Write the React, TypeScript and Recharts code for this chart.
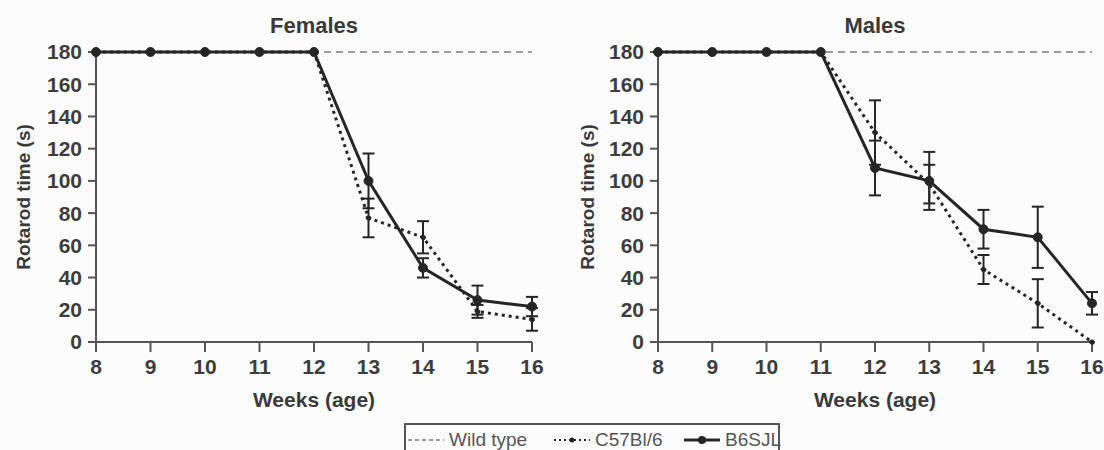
import { LineChart, Line, XAxis, YAxis, ErrorBar } from "recharts";

const weeks = [8, 9, 10, 11, 12, 13, 14, 15, 16];
const yTicks = [0, 20, 40, 60, 80, 100, 120, 140, 160, 180];

const wildType = [180, 180, 180, 180, 180, 180, 180, 180, 180];

const femaleC57 = [180, 180, 180, 180, 180, 77, 65, 19, 14];
const femaleC57Err = [null, null, null, null, null, 12, 10, 4, 7];
const femaleB6 = [180, 180, 180, 180, 180, 100, 46, 26, 22];
const femaleB6Err = [null, null, null, null, null, 17, 6, 9, 6];

const maleC57 = [180, 180, 180, 180, 130, 98, 45, 24, 0];
const maleC57Err = [null, null, null, null, 20, 12, 9, 15, null];
const maleB6 = [180, 180, 180, 180, 108, 100, 70, 65, 24];
const maleB6Err = [null, null, null, null, 17, 18, 12, 19, 7];

const buildRows = (
  c57: number[],
  c57Err: (number | null)[],
  b6: number[],
  b6Err: (number | null)[]
) =>
  weeks.map((week, i) => ({
    week,
    wild: wildType[i],
    c57: c57[i],
    c57Err: c57Err[i],
    b6: b6[i],
    b6Err: b6Err[i],
  }));

const femaleRows = buildRows(femaleC57, femaleC57Err, femaleB6, femaleB6Err);
const maleRows = buildRows(maleC57, maleC57Err, maleB6, maleB6Err);

const ink = "#262626";
const axisColor = "#555";
const textColor = "#3a3a3a";
const font = "'Liberation Sans', Arial, sans-serif";

type PanelProps = {
  title: string;
  rows: ReturnType<typeof buildRows>;
  left: number;
  yAxisWidth: number;
  marginRight: number;
  yLabelX: number;
};

const Panel = ({ title, rows, left, yAxisWidth, marginRight, yLabelX }: PanelProps) => {
  const plotLeft = yAxisWidth;
  const plotRight = 552 - marginRight;
  return (
    <div style={{ position: "absolute", left, top: 0, width: 552, height: 450 }}>
      <div
        style={{
          position: "absolute",
          top: 14,
          left: plotLeft,
          width: plotRight - plotLeft,
          textAlign: "center",
          fontWeight: "bold",
          fontSize: 22,
          lineHeight: "24px",
          color: textColor,
        }}
      >
        {title}
      </div>
      <LineChart
        width={552}
        height={450}
        data={rows}
        margin={{ top: 52, right: marginRight, bottom: 38, left: 0 }}
      >
        <XAxis
          dataKey="week"
          type="number"
          domain={[8, 16]}
          ticks={weeks}
          allowDecimals={false}
          height={70}
          tickSize={10}
          tickMargin={7}
          axisLine={{ stroke: axisColor, strokeWidth: 2 }}
          tickLine={{ stroke: axisColor, strokeWidth: 2 }}
          tick={{ fill: "#3d3d3d", fontSize: 21, fontWeight: "bold" }}
          label={{
            value: "Weeks (age)",
            position: "insideBottom",
            offset: 5,
            style: { fill: textColor, fontSize: 21, fontWeight: "bold" },
          }}
        />
        <YAxis
          type="number"
          domain={[0, 180]}
          ticks={yTicks}
          width={yAxisWidth}
          tickSize={8}
          tickMargin={6}
          axisLine={{ stroke: axisColor, strokeWidth: 2 }}
          tickLine={{ stroke: axisColor, strokeWidth: 2 }}
          tick={{ fill: "#3d3d3d", fontSize: 21, fontWeight: "bold" }}
          label={{
            value: "Rotarod time (s)",
            angle: -90,
            position: "insideLeft",
            offset: yLabelX,
            style: {
              textAnchor: "middle",
              fill: textColor,
              fontSize: 19,
              fontWeight: "bold",
            },
          }}
        />
        <Line
          dataKey="wild"
          stroke="#9a9a9a"
          strokeWidth={2}
          strokeDasharray="7 5"
          dot={false}
          activeDot={false}
          isAnimationActive={false}
        />
        <Line
          dataKey="b6"
          stroke={ink}
          strokeWidth={3}
          dot={{ r: 4.5, fill: ink, stroke: ink, strokeWidth: 1 }}
          activeDot={false}
          isAnimationActive={false}
        >
          <ErrorBar dataKey="b6Err" width={6} strokeWidth={2} stroke={ink} />
        </Line>
        <Line
          dataKey="c57"
          stroke={ink}
          strokeWidth={3}
          strokeDasharray="3 4"
          dot={{ r: 2.5, fill: ink, stroke: ink, strokeWidth: 1 }}
          activeDot={false}
          isAnimationActive={false}
        >
          <ErrorBar dataKey="c57Err" width={6} strokeWidth={2} stroke={ink} />
        </Line>
      </LineChart>
    </div>
  );
};

const LegendItem = ({
  x,
  kind,
  label,
}: {
  x: number;
  kind: "wild" | "c57" | "b6";
  label: string;
}) => (
  <div
    style={{
      position: "absolute",
      left: x,
      top: 3,
      display: "flex",
      alignItems: "center",
      height: 24,
    }}
  >
    <svg width={38} height={12} style={{ marginRight: 4 }}>
      {kind === "wild" && (
        <line x1={1} y1={6} x2={37} y2={6} stroke="#9a9a9a" strokeWidth={2} strokeDasharray="4 3" />
      )}
      {kind === "c57" && (
        <>
          <line x1={1} y1={6} x2={37} y2={6} stroke={ink} strokeWidth={2} strokeDasharray="2 3" />
          <circle cx={19} cy={6} r={2.5} fill={ink} />
        </>
      )}
      {kind === "b6" && (
        <>
          <line x1={1} y1={6} x2={37} y2={6} stroke={ink} strokeWidth={3} />
          <circle cx={19} cy={6} r={4} fill={ink} />
        </>
      )}
    </svg>
    <span style={{ fontSize: 19, color: "#555", whiteSpace: "nowrap" }}>{label}</span>
  </div>
);

const App = () => {
  return (
    <div
      style={{
        position: "absolute",
        left: 0,
        top: 0,
        width: 1104,
        height: 450,
        overflow: "hidden",
        background: "#fcfcfc",
        fontFamily: font,
      }}
    >
      <Panel title="Females" rows={femaleRows} left={0} yAxisWidth={96} marginRight={20} yLabelX={23} />
      <Panel title="Males" rows={maleRows} left={552} yAxisWidth={106} marginRight={12} yLabelX={35} />
      <div
        style={{
          position: "absolute",
          left: 404,
          top: 423,
          width: 376,
          height: 40,
          border: "2px solid #555",
          boxSizing: "border-box",
        }}
      >
        <LegendItem x={1} kind="wild" label="Wild type" />
        <LegendItem x={147} kind="c57" label="C57Bl/6" />
        <LegendItem x={277} kind="b6" label="B6SJL" />
      </div>
    </div>
  );
};

export default App;
